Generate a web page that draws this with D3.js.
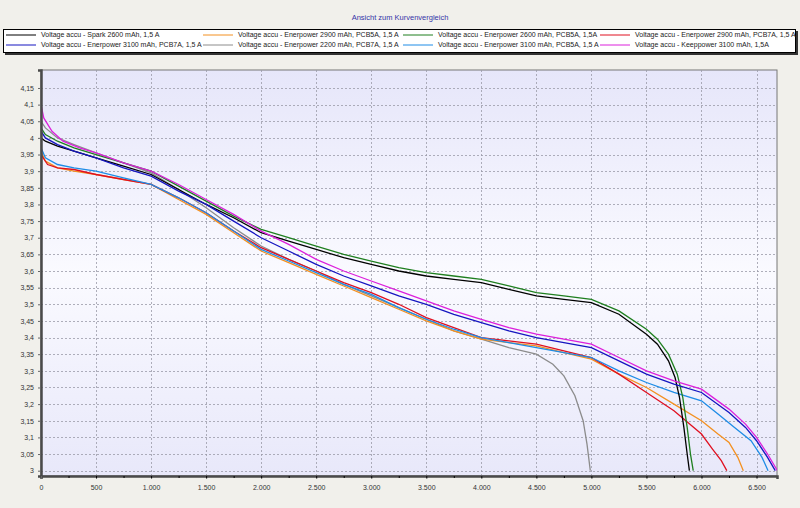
<!DOCTYPE html>
<html>
<head>
<meta charset="utf-8">
<script src="https://cdn.jsdelivr.net/npm/d3@7"></script>
<style>
    html, body { margin: 0; padding: 0; background: #f1f0eb; }
    #chart { width: 800px; height: 508px; }
    text { font-family: "Liberation Sans", Arial, sans-serif; }
</style>
</head>
<body>
<div id="chart"></div>
<script>
// Discharge curves, [mAh, volts]
const spark2600 = [[0,4.00],[40,3.99],[150,3.975],[300,3.96],[500,3.94],[750,3.915],[1000,3.89],[1250,3.845],[1500,3.80],[1750,3.76],[2000,3.715],[2250,3.69],[2500,3.665],[2750,3.64],[3000,3.62],[3250,3.60],[3500,3.585],[3750,3.575],[4000,3.565],[4250,3.545],[4500,3.525],[4750,3.515],[5000,3.505],[5250,3.47],[5500,3.41],[5600,3.38],[5700,3.33],[5760,3.28],[5800,3.22],[5840,3.13],[5870,3.05],[5890,3.0]];
const ener2900pcb5 = [[0,3.96],[40,3.93],[150,3.91],[300,3.90],[500,3.89],[750,3.875],[1000,3.86],[1250,3.815],[1500,3.77],[1750,3.715],[2000,3.66],[2250,3.625],[2500,3.59],[2750,3.555],[3000,3.52],[3250,3.485],[3500,3.45],[3750,3.42],[4000,3.395],[4250,3.385],[4500,3.375],[4750,3.355],[5000,3.335],[5250,3.29],[5500,3.25],[5750,3.20],[6000,3.15],[6150,3.11],[6250,3.085],[6330,3.04],[6380,3.0]];
const ener2600pcb5 = [[0,4.03],[40,4.01],[150,3.99],[300,3.97],[500,3.95],[750,3.925],[1000,3.90],[1250,3.855],[1500,3.81],[1750,3.765],[2000,3.725],[2250,3.70],[2500,3.675],[2750,3.65],[3000,3.63],[3250,3.61],[3500,3.595],[3750,3.585],[4000,3.575],[4250,3.555],[4500,3.535],[4750,3.525],[5000,3.515],[5250,3.48],[5500,3.425],[5600,3.395],[5700,3.35],[5780,3.29],[5830,3.22],[5870,3.13],[5900,3.05],[5925,3.0]];
const ener2900pcb7 = [[0,3.95],[60,3.92],[150,3.91],[300,3.905],[500,3.89],[750,3.875],[1000,3.86],[1250,3.82],[1500,3.775],[1750,3.72],[2000,3.67],[2250,3.635],[2500,3.60],[2750,3.565],[3000,3.535],[3250,3.50],[3500,3.46],[3750,3.43],[4000,3.40],[4250,3.39],[4500,3.38],[4750,3.36],[5000,3.34],[5250,3.29],[5500,3.235],[5750,3.18],[6000,3.11],[6100,3.065],[6180,3.03],[6230,3.0]];
const ener3100pcb7 = [[0,4.02],[40,4.0],[150,3.98],[300,3.96],[500,3.94],[750,3.91],[1000,3.885],[1250,3.84],[1500,3.80],[1750,3.75],[2000,3.70],[2250,3.66],[2500,3.62],[2750,3.585],[3000,3.555],[3250,3.525],[3500,3.50],[3750,3.47],[4000,3.445],[4250,3.42],[4500,3.40],[4750,3.385],[5000,3.37],[5250,3.33],[5500,3.29],[5750,3.26],[6000,3.235],[6250,3.175],[6400,3.13],[6500,3.09],[6600,3.04],[6670,3.0]];
const ener2200pcb7 = [[0,4.05],[40,4.03],[150,4.0],[300,3.98],[500,3.955],[750,3.925],[1000,3.895],[1250,3.845],[1500,3.79],[1750,3.73],[2000,3.675],[2250,3.635],[2500,3.60],[2750,3.56],[3000,3.525],[3250,3.49],[3500,3.455],[3750,3.42],[4000,3.395],[4250,3.37],[4500,3.35],[4650,3.32],[4750,3.285],[4850,3.225],[4925,3.15],[4960,3.08],[4990,3.0]];
const ener3100pcb5 = [[0,3.97],[40,3.94],[150,3.92],[300,3.91],[500,3.90],[750,3.88],[1000,3.86],[1250,3.82],[1500,3.775],[1750,3.72],[2000,3.665],[2250,3.63],[2500,3.595],[2750,3.56],[3000,3.53],[3250,3.49],[3500,3.455],[3750,3.425],[4000,3.40],[4250,3.385],[4500,3.37],[4750,3.355],[5000,3.34],[5250,3.30],[5500,3.265],[5750,3.235],[6000,3.21],[6150,3.17],[6300,3.13],[6450,3.09],[6550,3.04],[6605,3.0]];
const keep3100 = [[0,4.10],[25,4.06],[100,4.02],[200,3.99],[350,3.97],[500,3.955],[750,3.925],[1000,3.90],[1250,3.86],[1500,3.815],[1750,3.77],[2000,3.72],[2250,3.68],[2500,3.635],[2750,3.60],[3000,3.57],[3250,3.54],[3500,3.51],[3750,3.48],[4000,3.455],[4250,3.43],[4500,3.41],[4750,3.395],[5000,3.38],[5250,3.34],[5500,3.30],[5750,3.27],[6000,3.245],[6250,3.185],[6400,3.14],[6500,3.10],[6600,3.05],[6690,3.0]];

// Legend labels in legend order (row by row)
const seriesNames = [
    'Voltage accu - Spark 2600 mAh, 1,5 A',
    'Voltage accu - Enerpower 2900 mAh, PCB5A, 1,5 A',
    'Voltage accu - Enerpower 2600 mAh, PCB5A, 1,5A',
    'Voltage accu - Enerpower 2900 mAh, PCB7A, 1,5 A',
    'Voltage accu - Enerpower 3100 mAh, PCB7A, 1,5 A',
    'Voltage accu - Enerpower 2200 mAh, PCB7A, 1,5 A',
    'Voltage accu - Enerpower 3100 mAh, PCB5A, 1,5 A',
    'Voltage accu - Keeppower 3100 mAh, 1,5A'
];
const seriesColours = ['#000000', '#f39020', '#1f7f1f', '#e01020', '#1515c0', '#8c8c8c', '#1e8ce6', '#dc20dc'];
const seriesData = [spark2600, ener2900pcb5, ener2600pcb5, ener2900pcb7, ener3100pcb7, ener2200pcb7, ener3100pcb5, keep3100];
// draw order, back to front
const drawOrder = [5, 1, 3, 6, 2, 0, 4, 7];

const xTicks = d3.range(0, 6501, 500);
const yTicks = d3.range(0, 24).map(i => +(3 + i * 0.05).toFixed(2));

const width = 800;
const height = 508;
const plot = { left: 41, right: 777, top: 70, bottom: 476 };

const svg = d3.select('#chart')
    .append('svg')
    .attr('width', width)
    .attr('height', height);

const x = d3.scaleLinear().domain([0, 6686]).range([plot.left, plot.right]);
const y = d3.scaleLinear().domain([2.984, 4.204]).range([plot.bottom, plot.top]);

// Title
svg.append('text')
    .attr('x', 400)
    .attr('y', 20)
    .attr('text-anchor', 'middle')
    .attr('fill', '#3434a8')
    .style('font-size', '7.5px')
    .text('Ansicht zum Kurvenvergleich');

// Legend box with a drop shadow
const legend = svg.append('g');
legend.append('rect')
    .attr('x', 5).attr('y', 31).attr('width', 793).attr('height', 24)
    .attr('fill', '#333');
legend.append('rect')
    .attr('x', 3.5).attr('y', 29.5).attr('width', 792).attr('height', 23)
    .attr('fill', '#fff').attr('stroke', '#000');

const colX = [6, 203, 403, 600];
const rowY = [35, 45];
seriesNames.forEach((name, i) => {
    const cx = colX[i % 4];
    const cy = rowY[Math.floor(i / 4)];
    legend.append('line')
        .attr('x1', cx).attr('x2', cx + 30)
        .attr('y1', cy).attr('y2', cy)
        .attr('stroke', seriesColours[i]);
    legend.append('text')
        .attr('x', cx + 35).attr('y', cy)
        .attr('dy', '0.35em')
        .attr('fill', '#222')
        .style('font-size', '7px')
        .text(name);
});

// Plot background gradient
const defs = svg.append('defs');
const grad = defs.append('linearGradient')
    .attr('id', 'plotBg')
    .attr('x1', 0).attr('y1', 0).attr('x2', 0).attr('y2', 1);
grad.append('stop').attr('offset', '0%').attr('stop-color', '#e6e6fa');
grad.append('stop').attr('offset', '50%').attr('stop-color', '#fafaff');
grad.append('stop').attr('offset', '100%').attr('stop-color', '#e8e8fa');

defs.append('clipPath').attr('id', 'plotClip')
    .append('rect')
    .attr('x', plot.left).attr('y', plot.top)
    .attr('width', plot.right - plot.left).attr('height', plot.bottom - plot.top);

svg.append('rect')
    .attr('x', plot.left).attr('y', plot.top)
    .attr('width', plot.right - plot.left).attr('height', plot.bottom - plot.top)
    .attr('fill', 'url(#plotBg)')
    .attr('stroke', '#777');

// Grid lines
const grid = svg.append('g')
    .attr('stroke', '#9a9aa8')
    .attr('stroke-dasharray', '2,2')
    .attr('stroke-width', 0.8);
grid.selectAll('.hg')
    .data(yTicks)
    .join('line')
    .attr('x1', plot.left).attr('x2', plot.right)
    .attr('y1', d => Math.round(y(d)) + 0.5).attr('y2', d => Math.round(y(d)) + 0.5);
grid.selectAll('.vg')
    .data(xTicks.filter(d => d > 0))
    .join('line')
    .attr('x1', d => Math.round(x(d)) + 0.5).attr('x2', d => Math.round(x(d)) + 0.5)
    .attr('y1', plot.top).attr('y2', plot.bottom);

// Curves
const line = d3.line()
    .x(d => x(d[0]))
    .y(d => y(d[1]));

svg.append('g')
    .attr('clip-path', 'url(#plotClip)')
    .selectAll('path')
    .data(drawOrder)
    .join('path')
    .attr('fill', 'none')
    .attr('stroke', i => seriesColours[i])
    .attr('stroke-width', 1.3)
    .attr('d', i => line(seriesData[i]));

// Axes
const fmtY = v => d3.format('.2~f')(v).replace('.', ',');
const fmtX = v => d3.format(',')(v).replace(/,/g, '.');

const yAxis = svg.append('g')
    .attr('transform', `translate(${plot.left},0)`)
    .call(d3.axisLeft(y).tickValues(yTicks).tickFormat(fmtY).tickSize(3).tickPadding(4));
const xAxis = svg.append('g')
    .attr('transform', `translate(0,${plot.bottom})`)
    .call(d3.axisBottom(x).tickValues(xTicks).tickFormat(fmtX).tickSize(3).tickPadding(6));

svg.append('g')
    .attr('transform', `translate(0,${plot.bottom})`)
    .call(d3.axisBottom(x).tickValues(d3.range(250, 6686, 250)).tickFormat('').tickSize(2))
    .call(g => g.select('.domain').remove());

[yAxis, xAxis].forEach(a => {
    a.selectAll('text').attr('fill', '#333').style('font-size', '7px');
    a.selectAll('.tick line').attr('stroke', '#666');
    a.select('.domain').attr('stroke', '#4a4a4a').attr('stroke-width', 2.5);
});
</script>
</body>
</html>
